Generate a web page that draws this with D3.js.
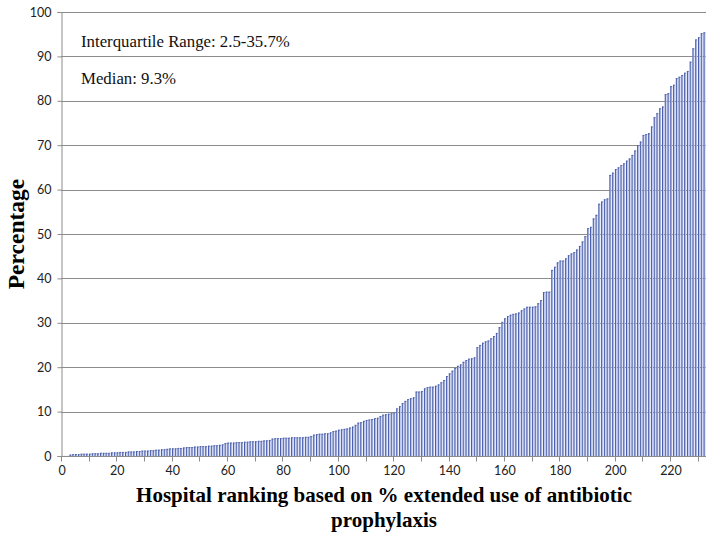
<!DOCTYPE html>
<html>
<head>
<meta charset="utf-8">
<script src="https://cdn.jsdelivr.net/npm/d3@7"></script>
<style>
  html, body { margin: 0; padding: 0; background: #fff; }
  svg { display: block; }
</style>
</head>
<body>
<svg id="chart" width="714" height="539"></svg>
<script>
// Sorted % extended antibiotic prophylaxis per hospital (rank 1..233)
const percentages = [
  0, 0, 0, 0.3, 0.4, 0.4, 0.4, 0.5, 0.5, 0.5,
  0.5, 0.6, 0.6, 0.6, 0.7, 0.7, 0.7, 0.7, 0.8, 0.8,
  0.8, 0.9, 0.9, 0.9, 1.0, 1.0, 1.0, 1.1, 1.1, 1.2,
  1.2, 1.2, 1.3, 1.3, 1.4, 1.4, 1.5, 1.5, 1.6, 1.7,
  1.7, 1.7, 1.8, 1.8, 1.9, 2.0, 2.0, 2.0, 2.1, 2.1,
  2.2, 2.2, 2.2, 2.3, 2.3, 2.4, 2.4, 2.5, 2.6, 2.9,
  3.0, 3.0, 3.0, 3.1, 3.1, 3.1, 3.2, 3.2, 3.3, 3.3,
  3.3, 3.4, 3.4, 3.5, 3.5, 3.6, 3.9, 4.0, 4.0, 4.0,
  4.1, 4.1, 4.1, 4.2, 4.2, 4.2, 4.2, 4.2, 4.3, 4.3,
  4.5, 4.8, 4.9, 5.0, 5.0, 5.1, 5.1, 5.3, 5.6, 5.7,
  5.9, 6.0, 6.1, 6.2, 6.4, 6.6, 7.0, 7.5, 7.6, 7.9,
  8.1, 8.2, 8.3, 8.5, 8.6, 9.0, 9.3, 9.4, 9.5, 9.6,
  9.8, 10.7, 11.2, 11.9, 12.4, 12.8, 13.0, 13.2, 14.5, 14.5,
  14.6, 15.2, 15.5, 15.6, 15.6, 15.8, 16.1, 16.6, 17.1, 18.0,
  18.6, 19.2, 19.8, 20.3, 20.6, 21.2, 21.6, 21.9, 22.0, 22.2,
  24.5, 25.0, 25.5, 25.8, 26.0, 26.5, 27.0, 27.7, 29.0, 30.2,
  31.0, 31.5, 31.8, 32.0, 32.1, 32.3, 32.8, 33.2, 33.6, 33.6,
  33.6, 33.7, 34.4, 35.1, 36.9, 37.0, 37.0, 41.9, 42.6, 43.6,
  44.0, 44.0, 44.5, 45.2, 45.6, 45.9, 46.5, 47.3, 48.3, 49.5,
  51.3, 51.6, 53.5, 54.3, 56.8, 57.3, 57.8, 58.0, 63.3, 63.8,
  64.6, 65.0, 65.5, 65.9, 66.5, 67.0, 67.8, 68.8, 70.0, 70.8,
  72.3, 72.5, 72.7, 74.2, 76.3, 77.2, 78.3, 78.7, 81.5, 81.7,
  83.3, 83.6, 85.1, 85.4, 85.8, 86.3, 86.7, 88.8, 91.8, 93.8,
  94.3, 95.2, 95.4
];
const ranks = percentages.map((d, i) => i + 1);
const xTickLabels = [0, 20, 40, 60, 80, 100, 120, 140, 160, 180, 200, 220];
const xMinorTicks = d3.range(0, 240, 10);
const yTickLabels = [0, 10, 20, 30, 40, 50, 60, 70, 80, 90, 100];
const annotations = ["Interquartile Range: 2.5-35.7%", "Median: 9.3%"];
const yTitle = "Percentage";
const xTitleLines = ["Hospital ranking based on % extended use of antibiotic", "prophylaxis"];

const svg = d3.select("#chart");
const mLeft = 61, mRight = 706, mTop = 12, mBottom = 456;

const x = d3.scaleLinear().domain([0, ranks.length]).range([mLeft, mRight]);
const y = d3.scaleLinear().domain([0, 100]).range([mBottom, mTop]);

// gridlines
svg.append("g")
  .selectAll("line")
  .data(yTickLabels)
  .join("line")
  .attr("x1", mLeft).attr("x2", mRight)
  .attr("y1", d => Math.round(y(d)) + 0.5).attr("y2", d => Math.round(y(d)) + 0.5)
  .attr("stroke", "#8c8c8c").attr("stroke-width", 1);

// bars
const bw = x(1) - x(0);
const bars = svg.append("g");
bars.selectAll("rect.fill")
  .data(percentages)
  .join("rect")
  .attr("class", "fill")
  .attr("x", (d, i) => x(i) + 0.3)
  .attr("width", bw - 0.8)
  .attr("y", d => y(d))
  .attr("height", d => y(0) - y(d))
  .attr("fill", "#bfcaf0");
bars.selectAll("line.edge")
  .data(percentages)
  .join("line")
  .attr("class", "edge")
  .attr("x1", (d, i) => x(i) + 0.8).attr("x2", (d, i) => x(i) + 0.8)
  .attr("y1", d => y(d)).attr("y2", d => y(0))
  .attr("stroke", "#4a5da6").attr("stroke-width", 1);
bars.selectAll("line.edge2")
  .data(percentages)
  .join("line")
  .attr("class", "edge2")
  .attr("x1", (d, i) => x(i) + 0.3).attr("x2", (d, i) => x(i) + bw - 0.6)
  .attr("y1", d => y(d) + 0.4).attr("y2", d => y(d) + 0.4)
  .attr("stroke", "#4a5da6").attr("stroke-width", 0.8);

// y axis
const yAxis = d3.axisLeft(y).tickValues(yTickLabels).tickSize(4).tickPadding(6).tickFormat(d3.format("d"));
const gy = svg.append("g").attr("transform", `translate(${mLeft + 0.5},0)`).call(yAxis);
gy.select(".domain").attr("stroke", "#8c8c8c");
gy.selectAll(".tick line").attr("stroke", "#8c8c8c");
gy.selectAll(".tick text").attr("font-family", "Lato, 'Open Sans', sans-serif").attr("font-size", 12.5).attr("fill", "#222");

// x axis
const gx = svg.append("g").attr("transform", `translate(0,${mBottom + 0.5})`);
gx.append("line").attr("x1", mLeft).attr("x2", mRight).attr("stroke", "#8c8c8c");
gx.selectAll("line.tick")
  .data(xMinorTicks)
  .join("line")
  .attr("class", "tick")
  .attr("x1", d => Math.round(x(d)) + 0.5).attr("x2", d => Math.round(x(d)) + 0.5)
  .attr("y1", 0).attr("y2", 5)
  .attr("stroke", "#8c8c8c");
gx.selectAll("text")
  .data(xTickLabels)
  .join("text")
  .attr("x", d => x(d) + 1)
  .attr("y", 18)
  .attr("text-anchor", "middle")
  .attr("font-family", "Lato, 'Open Sans', sans-serif")
  .attr("font-size", 12.5)
  .attr("fill", "#222")
  .text(d => d);

// annotations
svg.append("g").selectAll("text")
  .data(annotations)
  .join("text")
  .attr("x", 81)
  .attr("y", (d, i) => 47 + i * 37)
  .attr("font-family", "'Liberation Serif', 'Times New Roman', serif")
  .attr("font-size", 16.8)
  .attr("fill", "#111")
  .text(d => d);

// y title
svg.append("text")
  .attr("transform", "translate(24,234) rotate(-90)")
  .attr("text-anchor", "middle")
  .attr("font-family", "'Liberation Serif', 'Times New Roman', serif")
  .attr("font-weight", "bold")
  .attr("font-size", 23.5)
  .attr("fill", "#000")
  .text(yTitle);

// x title
svg.append("g").selectAll("text")
  .data(xTitleLines)
  .join("text")
  .attr("x", 384)
  .attr("y", (d, i) => 502 + i * 25)
  .attr("text-anchor", "middle")
  .attr("font-family", "'Liberation Serif', 'Times New Roman', serif")
  .attr("font-weight", "bold")
  .attr("font-size", 21)
  .attr("fill", "#000")
  .text(d => d);
</script>
</body>
</html>
